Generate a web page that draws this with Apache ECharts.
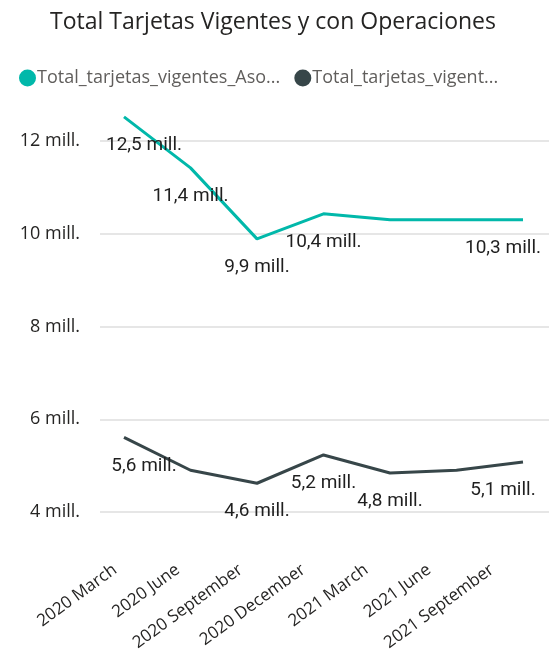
<!DOCTYPE html>
<html><head><meta charset="utf-8">
<script src="https://cdn.jsdelivr.net/npm/echarts@6/dist/echarts.min.js"></script>
<style>html,body{margin:0;padding:0;background:#fff}#c{width:549px;height:657px}</style>
</head><body><div id="c"></div>
<script>
const categories = ['2020 March','2020 June','2020 September','2020 December','2021 March','2021 June','2021 September'];
const seriesNames = ['Total_tarjetas_vigentes_Aso...','Total_tarjetas_vigent...'];
const asociadas = [12.52, 11.42, 9.89, 10.43, 10.30, 10.30, 10.30];
const operaciones = [5.61, 4.90, 4.62, 5.23, 4.84, 4.90, 5.08];
const asociadasShowLabel = [true, true, true, true, false, false, true];
const operacionesShowLabel = [true, false, true, true, true, false, true];
const yTicks = [4, 6, 8, 10, 12];

const colors = ['#01B8AA', '#374649'];
const fmt = v => v.toFixed(1).replace('.', ',') + ' mill.';
const TOP = 141, BOTTOM = 145;
const yMin = yTicks[0], yMax = yTicks[yTicks.length - 1];

function buildData(vals, shows) {
  const n = vals.length;
  return vals.map((v, i) => {
    let off = [0, 0];
    if (i === 0) off = [20, 0];
    if (i === n - 1) off = [-20, 0];
    return { value: v, label: { show: shows[i], offset: off } };
  });
}

const labelStyle = { show: true, position: 'bottom', distance: 18, fontFamily: 'Roboto', fontSize: 19, color: '#1f1f1f', formatter: p => fmt(p.value) };

const chart = echarts.init(document.getElementById('c'));
chart.setOption({
  animation: false,
  color: colors,
  title: {
    text: 'Total Tarjetas Vigentes y con Operaciones',
    left: 45, top: 6,
    textStyle: { fontFamily: 'Open Sans', fontSize: 23, fontWeight: 'normal', color: '#252423' }
  },
  legend: {
    top: 64, left: 14, itemGap: 14,
    icon: 'circle', itemWidth: 17, itemHeight: 17,
    textStyle: { fontFamily: 'Open Sans', fontSize: 18, color: '#605E5C', padding: [0, 0, 0, -4] },
    data: seriesNames.map((n, i) => ({ name: n, itemStyle: { color: colors[i], opacity: 1 } }))
  },
  grid: [
    { left: 100, right: 0, top: TOP, bottom: BOTTOM },
    { left: 124, right: 26, top: TOP, bottom: BOTTOM },
    { left: 115, right: 57, top: TOP, bottom: BOTTOM }
  ],
  xAxis: [
    { gridIndex: 0, type: 'category', data: categories, show: false },
    { gridIndex: 1, type: 'category', data: categories, boundaryGap: false, show: false },
    { gridIndex: 2, type: 'category', data: categories, boundaryGap: false,
      axisLine: { show: false }, axisTick: { show: false },
      axisLabel: { rotate: 36, margin: 56, interval: 0, fontFamily: 'Open Sans', fontSize: 17, color: '#252423' } }
  ],
  yAxis: [
    { gridIndex: 0, type: 'value', min: yMin, max: yMax, interval: 2,
      axisLine: { show: false }, axisTick: { show: false },
      splitLine: { lineStyle: { color: '#E6E6E6', width: 2 } },
      axisLabel: { margin: 20, fontFamily: 'Open Sans', fontSize: 18, color: '#252423', formatter: v => v + ' mill.' } },
    { gridIndex: 1, type: 'value', min: yMin, max: yMax, interval: 2, show: false, splitLine: { show: false } },
    { gridIndex: 2, type: 'value', min: yMin, max: yMax, interval: 2, show: false, splitLine: { show: false } }
  ],
  series: [
    { name: seriesNames[0], type: 'line', xAxisIndex: 1, yAxisIndex: 1, clip: false,
      data: buildData(asociadas, asociadasShowLabel),
      symbol: 'circle', symbolSize: 2, showSymbol: true, itemStyle: { color: 'rgba(0,0,0,0)', borderWidth: 0 },
      lineStyle: { width: 3, color: colors[0] }, label: labelStyle },
    { name: seriesNames[1], type: 'line', xAxisIndex: 1, yAxisIndex: 1, clip: false,
      data: buildData(operaciones, operacionesShowLabel),
      symbol: 'circle', symbolSize: 2, showSymbol: true, itemStyle: { color: 'rgba(0,0,0,0)', borderWidth: 0 },
      lineStyle: { width: 3, color: colors[1] }, label: labelStyle }
  ]
});
</script></body></html>
